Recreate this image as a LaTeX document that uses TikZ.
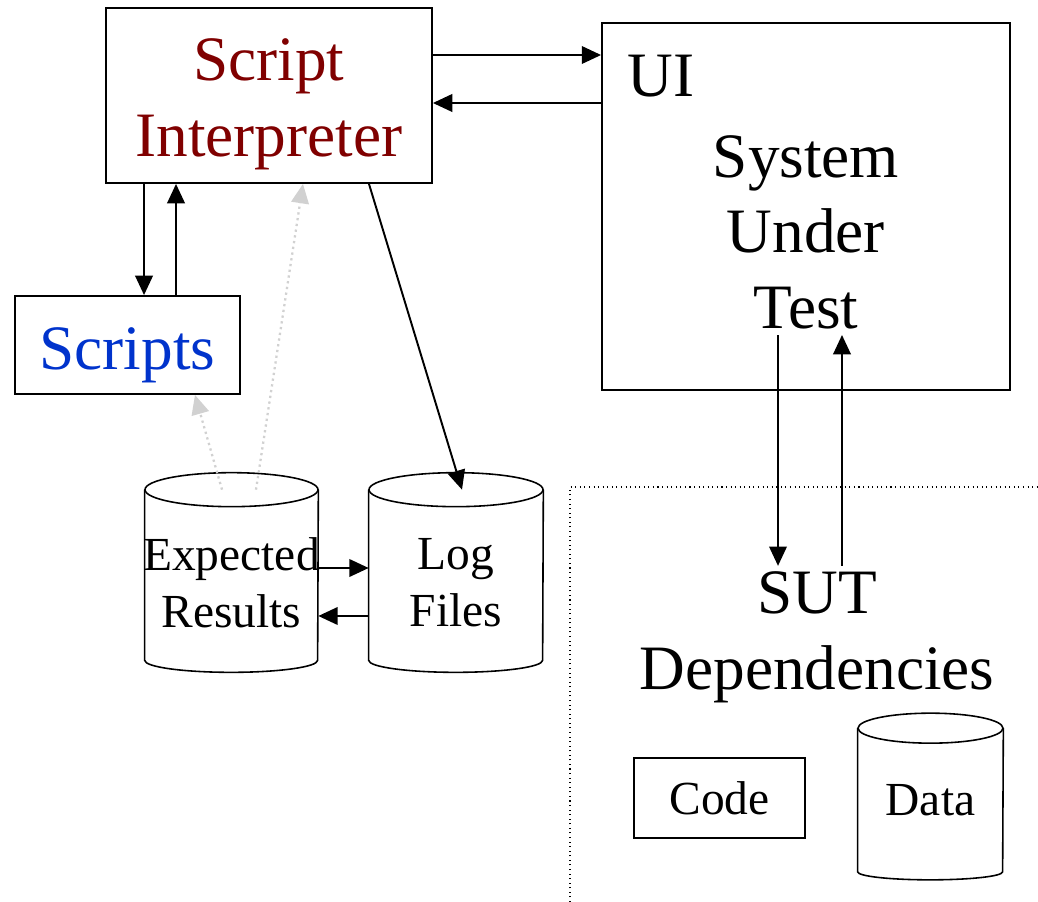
\documentclass[tikz,border=0pt]{standalone}
\usepackage{fontspec}
\setmainfont{Liberation Serif}
\usetikzlibrary{arrows.meta,calc}
\definecolor{interpred}{RGB}{128,0,0}
\definecolor{scriptblue}{RGB}{0,51,204}
\tikzset{
	box/.style={draw, line width=1.1pt, inner sep=0pt},
	drumbody/.style={inner sep=0pt},
	drumline/.style={line width=0.9pt},
	big/.style={font=\fontsize{36}{43}\selectfont},
	small/.style={font=\fontsize{27}{32.5}\selectfont},
	link/.style={-{Triangle[length=11pt,width=10pt]}, line width=1.1pt},
	hint/.style={-{Triangle[length=11pt,width=10pt]}, draw=black!18, dotted, line width=1.3pt},
	frame/.style={dotted, line width=0.6pt},
}
\def\drum(#1)(#2:#3:#4){%
	\draw[drumline] (#1.north) ellipse (#2 and #3);
	\draw[drumline] (#1.north west) -- (#1.south west) arc (180:360:#2 and #4) -- (#1.north east);
}

\begin{document}
\begin{tikzpicture}[x=0.02cm, y=-0.02cm]
			%%%%% START %%%%%
			\useasboundingbox (0,0) rectangle (1038,902);
			
			\node[box, minimum width=6.52cm, minimum height=3.5cm] (interp) at (269,95.5) {};
			\node[big, text=interpred, align=center] (interptext) at ([yshift=-0.18cm]interp.center) {Script\\Interpreter};
			\node[box, minimum width=8.16cm, minimum height=7.34cm] (sut) at (806,206.5) {};
			\node[big, anchor=base west, inner sep=0pt] (ui) at (627,97) {UI};
			\node[big, align=center] (suttext) at (806,232) {System\\Under\\Test};
			\node[box, minimum width=4.5cm, minimum height=1.96cm, big, text=scriptblue, text height=36pt, text depth=8pt] (scripts) at (127.5,345) {Scripts};
			
			% stores
			\node[drumbody, minimum width=3.46cm, minimum height=3.4cm] (exp) at (231.5,575) {};
			\node[drumbody, minimum width=3.48cm, minimum height=3.4cm] (log) at (456,575) {};
			\drum(exp)(1.73cm:0.34cm:0.24cm)
			\drum(log)(1.74cm:0.34cm:0.24cm)
			\node[small, align=center] (exptext) at ([yshift=-0.16cm]exp.center) {Expected\\Results};
			\node[small, align=center] (logtext) at ([yshift=-0.16cm]log.center) {Log\\Files};
			
			% dependencies corner
			\draw[frame] (570,902) -- (570,487) -- (1038,487);
			\node[big, align=center] (deps) at (817,637.5) {SUT\\Dependencies};
			\node[box, minimum width=3.42cm, minimum height=1.6cm, small] (code) at (719.5,798) {Code};
			\node[drumbody, minimum width=2.9cm, minimum height=2.86cm, small] (data) at (930.5,800) {Data};
			\drum(data)(1.45cm:0.3cm:0.16cm)
			
			\draw[link] ([yshift=0.81cm]interp.east) -- ([yshift=0.81cm]interp.east -| sut.west);
			\draw[link] ([yshift=-0.15cm]interp.east -| sut.west) -- ([yshift=-0.15cm]interp.east);
			
			\draw[link] ([xshift=-2.5cm]interp.south) -- ([xshift=-2.5cm]interp.south |- scripts.north);
			\draw[link] ([xshift=-1.86cm]interp.south |- scripts.north) -- ([xshift=-1.86cm]interp.south);
			
			\draw[link] ([xshift=2cm]interp.south) -- ([xshift=0.12cm]log.north);
			
			\draw[hint] ([xshift=-0.19cm]exp.north) -- ([xshift=1.35cm]scripts.south);
			\draw[hint] ([xshift=0.49cm]exp.north) -- ([xshift=0.68cm]interp.south);
			
			\draw[link] ([yshift=0.14cm]exp.east) -- ([yshift=0.14cm]exp.east -| log.west);
			\draw[link] ([yshift=-0.82cm]exp.east -| log.west) -- ([yshift=-0.82cm]exp.east);
			
			\draw[link] ([xshift=-0.56cm]suttext.south) -- ([xshift=-0.56cm]suttext.south |- deps.north);
			\draw[link] ([xshift=0.72cm]suttext.south |- deps.north) -- ([xshift=0.72cm]suttext.south);
			%%%%% END %%%%%
\end{tikzpicture}
\end{document}
